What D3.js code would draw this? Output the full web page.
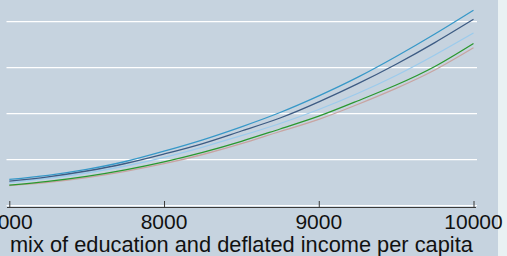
<!DOCTYPE html>
<html lang="en">
  <head>
    <meta charset="UTF-8" />
    <title>Curves by income mix</title>
    <script src="https://d3js.org/d3.v7.min.js"></script>
    <style>
      body { margin: 0; background: #c6d3df; }
      svg { display: block; }
    </style>
  </head>
  <body>
    <div id="chart"></div>

    <script>
      const xValues = [7000, 7250, 7500, 7750, 8000, 8250, 8500, 8750, 9000, 9250, 9500, 9750, 10000];
      const xTicks = [7000, 8000, 9000, 10000];
      const yTicks = [0, 2, 4, 6, 8];

      const teal = [1.143, 1.322, 1.578, 1.922, 2.37, 2.865, 3.43, 4.052, 4.774, 5.578, 6.487, 7.465, 8.5];
      const navy = [1.072, 1.257, 1.509, 1.835, 2.248, 2.704, 3.248, 3.813, 4.513, 5.296, 6.152, 7.091, 8.104];
      const lightBlue = [1.009, 1.191, 1.422, 1.726, 2.104, 2.552, 3.043, 3.574, 4.183, 4.878, 5.661, 6.552, 7.509];
      const green = [0.898, 1.061, 1.278, 1.561, 1.909, 2.322, 2.8, 3.335, 3.891, 4.552, 5.248, 6.052, 7.052];
      const pink = [0.874, 1.017, 1.222, 1.496, 1.826, 2.226, 2.696, 3.226, 3.757, 4.4, 5.104, 5.9, 6.865];

      const series = [
        { name: "pink", values: pink, color: "#c8a4a2" },
        { name: "green", values: green, color: "#2a982e" },
        { name: "lightBlue", values: lightBlue, color: "#9ccbec" },
        { name: "navy", values: navy, color: "#3d5b83" },
        { name: "teal", values: teal, color: "#3798c8" },
      ];

      const width = 507,
        height = 256;

      const svg = d3
        .select("#chart")
        .append("svg")
        .attr("width", width)
        .attr("height", height);

      // background and lighter strip on the right
      svg.append("rect").attr("width", width).attr("height", height).attr("fill", "#c6d3df");
      svg.append("rect").attr("x", 498).attr("width", width - 498).attr("height", height).attr("fill", "#e9f1f3");

      const x = d3.scaleLinear().domain([7000, 10000]).range([9.3, 473.5]);
      const y = d3.scaleLinear().domain([0, 8]).range([205.7, 21.7]);

      // white gridlines
      svg
        .append("g")
        .selectAll("line")
        .data(yTicks)
        .join("line")
        .attr("x1", 6.5)
        .attr("x2", 477)
        .attr("y1", (d) => y(d))
        .attr("y2", (d) => y(d))
        .attr("stroke", "#ffffff")
        .attr("stroke-width", 1.3);

      // curves
      const line = d3
        .line()
        .x((d, i) => x(xValues[i]))
        .y((d) => y(d))
        .curve(d3.curveNatural);

      svg
        .append("g")
        .selectAll("path")
        .data(series)
        .join("path")
        .attr("d", (d) => line(d.values))
        .attr("fill", "none")
        .attr("stroke", (d) => d.color)
        .attr("stroke-width", 1.3);

      // x axis: ticks point up into the plot
      const xAxis = svg
        .append("g")
        .attr("transform", "translate(0,207.5)")
        .call(d3.axisTop(x).tickValues(xTicks).tickSize(6.5).tickFormat(d3.format("d")).tickSizeOuter(0));
      xAxis.select(".domain").remove();
      xAxis.selectAll(".tick line").attr("stroke", "#3a3a3a");
      xAxis.selectAll(".tick text").remove();
      xAxis
        .append("line")
        .attr("x1", 7)
        .attr("x2", 476)
        .attr("stroke", "#3a3a3a")
        .attr("stroke-width", 1.2);

      svg
        .append("g")
        .selectAll("text")
        .data(xTicks)
        .join("text")
        .attr("x", (d) => x(d))
        .attr("y", 228.5)
        .attr("text-anchor", "middle")
        .attr("font-family", "Liberation Sans, Arial, sans-serif")
        .attr("font-size", 21)
        .attr("fill", "#111")
        .text((d) => d);

      svg
        .append("text")
        .attr("x", (x(7000) + x(10000)) / 2)
        .attr("y", 251.5)
        .attr("text-anchor", "middle")
        .attr("font-family", "Liberation Sans, Arial, sans-serif")
        .attr("font-size", 21.8)
        .attr("fill", "#111")
        .text("mix of education and deflated income per capita");
    </script>
  </body>
</html>
